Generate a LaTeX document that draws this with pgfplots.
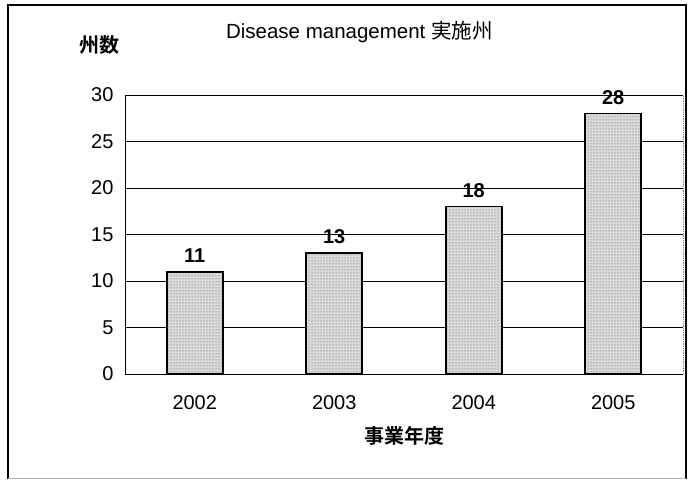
\documentclass[border=0pt]{standalone}
\usepackage{pgfplots}
\pgfplotsset{compat=1.18}
\usepackage{fontspec}
\setmainfont{Liberation Sans}
\newfontfamily\cjk{Noto Sans CJK JP}[BoldFont={Noto Sans CJK JP Bold}]
\usetikzlibrary{patterns}
\begin{document}
\begin{tikzpicture}[x=1pt,y=1pt]
\path (0,0) rectangle (691,479);
\draw[line width=1.6pt] (8,0) -- (8,474) -- (686,474) -- (686,0);
\draw[gray!60, line width=1pt] (8,1) -- (686,1);
\begin{axis}[
  at={(125pt,105pt)}, anchor=south west,
  scale only axis, width=558pt, height=279pt,
  ymin=0, ymax=30, ytick={0,5,...,30},
  xmin=-0.5, xmax=3.5, xtick={0,1,2,3},
  xticklabels={2002,2003,2004,2005},
  axis x line*=bottom, axis y line*=left,
  axis line style={black, line width=0.8pt, -},
  ymajorgrids, major grid style={black, line width=0.8pt},
  tick style={draw=none},
  /pgf/number format/assume math mode=true,
  ticklabel style={font=\fontsize{20}{22}\selectfont},
  yticklabel style={xshift=-8pt},
  xticklabel style={yshift=-14pt},
  xlabel={\cjk\bfseries 事業年度},
  xlabel style={font=\fontsize{20}{22}\selectfont, yshift=-10pt},
  title={Disease management {\cjk 実施州}},
  title style={at={(axis description cs:0.42,1)}, anchor=center, yshift=57pt, font=\fontsize{20.5}{22}\selectfont},
  ybar, bar width=56pt,
  nodes near coords,
  nodes near coords style={font=\fontsize{20}{22}\selectfont\bfseries, yshift=5pt},
  clip=false,
]
\addplot[draw=black, line width=1.6pt, fill=gray!30, postaction={pattern=dots, pattern color=gray!70!black}] coordinates {(0,11) (1,13) (2,18) (3,28)};
\draw[gray, densely dotted, line width=0.8pt] (rel axis cs:1,0) -- (rel axis cs:1,1);
\node[font=\fontsize{20}{22}\selectfont\cjk\bfseries] at (rel axis cs:-0.045,1) [yshift=50pt] {州数};
\end{axis}
\end{tikzpicture}
\end{document}
